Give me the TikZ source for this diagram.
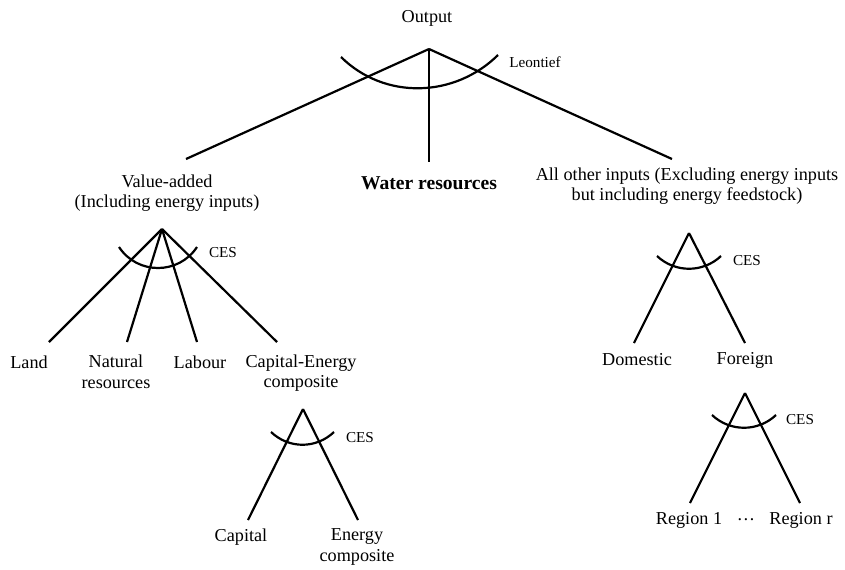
\documentclass[tikz,border=0pt]{standalone}
\usepackage{fontspec}
\setmainfont{Liberation Serif}
\usetikzlibrary{positioning}
\tikzset{
  every picture/.style={line width=1.1pt, x=0.5pt, y=-0.5pt},
  lbl/.style={font=\fontsize{9.1}{10.3}\selectfont, align=center, inner sep=0pt},
  tag/.style={font=\fontsize{7.6}{9}\selectfont, inner sep=0pt},
  nest/.style={line width=1.1pt},
}

\begin{document}
\begin{tikzpicture}
  \useasboundingbox (0,0) rectangle (845,569);

  % level 1
  \node[lbl] (out) at (427,18) {Output};
  \coordinate (outNest) at (429,49);
  \node[tag] (leon) at (535,62) {Leontief};
  \node[lbl] (va) at (167,193) {Value-added\\(Including energy inputs)};
  \node[lbl, font=\fontsize{9.8}{11}\selectfont\bfseries] (water) at (429,183) {Water resources};
  \node[lbl] (aoi) at (687,186) {All other inputs (Excluding energy inputs\\but including energy feedstock)};
  \coordinate (vaEnd) at (186,159);
  \coordinate (waterEnd) at (429,162);
  \coordinate (aoiEnd) at (672,159);
  \draw (outNest) -- (vaEnd);
  \draw (outNest) -- (waterEnd);
  \draw (outNest) -- (aoiEnd);
  \draw[nest] (341,57) .. controls (384.5,100) and (454.5,98) .. (498,55);

  % value-added
  \coordinate (vaNest) at (162,229);
  \node[tag] (vaCes) at (223,253) {CES};
  \node[lbl] (land) at (29,362) {Land};
  \node[lbl] (natres) at (116,372) {Natural\\resources};
  \node[lbl] (labour) at (200,362) {Labour};
  \node[lbl] (capen) at (301,373) {Capital-Energy\\composite};
  \coordinate (landEnd) at (49,342);
  \coordinate (natresEnd) at (127,342);
  \coordinate (labourEnd) at (197,342);
  \coordinate (capenEnd) at (277,342);
  \foreach \e in {landEnd,natresEnd,labourEnd,capenEnd}
    \draw (vaNest) -- (\e);
  \draw[nest] (119,247) .. controls (137.4,275) and (178.6,275) .. (197,247);

  % capital-energy
  \coordinate (ceNest) at (303,409);
  \node[tag] (ceCes) at (360,438) {CES};
  \node[lbl] (capital) at (241,537) {Capital};
  \node[lbl] (energy) at (357,547) {Energy\\composite};
  \coordinate (capitalEnd) at (248,520);
  \coordinate (energyEnd) at (358,520);
  \draw (ceNest) -- (capitalEnd);
  \draw (ceNest) -- (energyEnd);
  \draw[nest] (271,432) .. controls (289,449) and (316,449) .. (334,432);

  % all other inputs
  \coordinate (aoiNest) at (689,233);
  \node[tag] (aoiCes) at (747,261) {CES};
  \node[lbl] (dom) at (637,360) {Domestic};
  \node[lbl] (foreign) at (745,360) {Foreign};
  \coordinate (domEnd) at (634,343);
  \coordinate (foreignEnd) at (745,343);
  \draw (aoiNest) -- (domEnd);
  \draw (aoiNest) -- (foreignEnd);
  \draw[nest] (657,256) .. controls (675,273) and (703,273) .. (721,256);

  % foreign
  \coordinate (frNest) at (745,393);
  \node[tag] (frCes) at (800,420) {CES};
  \node[lbl] (reg1) at (689,520) {Region 1};
  \node[lbl] (dots) at (746,520) {\dots};
  \node[lbl] (regr) at (801,520) {Region r};
  \coordinate (reg1End) at (690,503);
  \coordinate (regrEnd) at (800,503);
  \draw (frNest) -- (reg1End);
  \draw (frNest) -- (regrEnd);
  \draw[nest] (712,415) .. controls (730,432) and (758,432) .. (776,415);
\end{tikzpicture}
\end{document}
